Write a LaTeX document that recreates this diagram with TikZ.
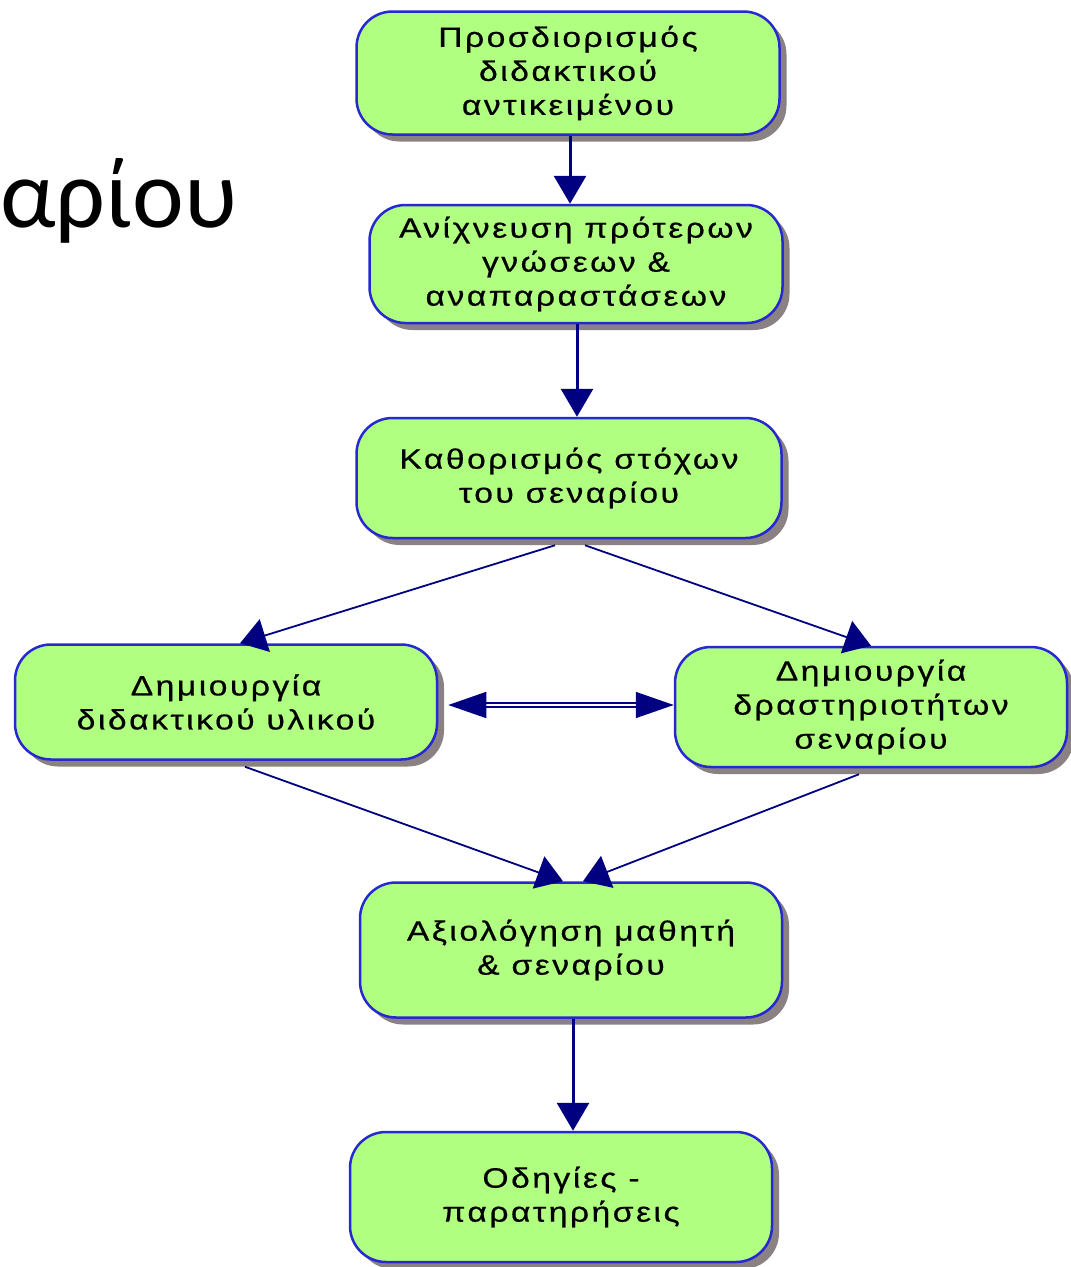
\documentclass[tikz,border=0pt]{standalone}
\usepackage{fontspec}
\usetikzlibrary{arrows.meta,shadows,calc}
\newfontfamily\boxfont[FakeStretch=1.2,LetterSpace=9,FakeBold=0.6]{Liberation Sans}
\newfontfamily\bigfont{Carlito}
\definecolor{boxfill}{HTML}{B0FF80}
\definecolor{boxline}{HTML}{2828D0}
\definecolor{arrowc}{HTML}{000080}
\definecolor{shadowc}{HTML}{8A8282}
\begin{document}
\begin{tikzpicture}[x=1pt,y=-1pt,
  stepbox/.style={draw=boxline, line width=2.5pt, fill=boxfill, rounded corners=36pt,
    align=center, inner sep=0pt, font=\boxfont\fontsize{28}{34}\selectfont,
    drop shadow={shadow xshift=7pt, shadow yshift=-7pt, fill=shadowc, opacity=1}},
  flow/.style={draw=arrowc, line width=3pt, -{Triangle[length=28pt,width=32pt]}},
  diag/.style={draw=arrowc, line width=1.8pt, -{Triangle[length=26pt,width=34pt]}},
  dbl/.style={draw=arrowc, line width=1.6pt, double=white, double distance=2pt,
    {Triangle[length=38pt,width=26pt]}-{Triangle[length=38pt,width=26pt]}},
]
\useasboundingbox (0,0) rectangle (1071,1267);

\node[font=\bigfont\fontsize{98}{110}\selectfont, anchor=base west, inner sep=0pt] (title) at (0,227) {αρίου};

\node[stepbox, minimum width=423pt, minimum height=123pt] (b1) at (568,73)
  {Προσδιορισμός\\διδακτικού\\αντικειμένου};
\node[stepbox, minimum width=413pt, minimum height=118pt] (b2) at (576,264)
  {Ανίχνευση πρότερων\\γνώσεων \&\\αναπαραστάσεων};
\node[stepbox, minimum width=425pt, minimum height=120pt] (b3) at (569,478)
  {Καθορισμός στόχων\\του σεναρίου};
\node[stepbox, minimum width=422pt, minimum height=115pt] (b4) at (226,702)
  {Δημιουργία\\διδακτικού υλικού};
\node[stepbox, minimum width=392pt, minimum height=120pt] (b5) at (871,707)
  {Δημιουργία\\δραστηριοτήτων\\σεναρίου};
\node[stepbox, minimum width=422pt, minimum height=135pt] (b6) at (571,950)
  {Αξιολόγηση μαθητή\\\& σεναρίου};
\node[stepbox, minimum width=422pt, minimum height=130pt] (b7) at (561,1197)
  {Οδηγίες -\\παρατηρήσεις};

\draw[flow] ([xshift=2pt]b1.south) -- ([xshift=2pt]b1.south |- b2.north);
\draw[flow] ([xshift=1pt]b2.south) -- ([xshift=1pt]b2.south |- b3.north);
\draw[flow] ([xshift=2pt]b6.south) -- ([xshift=2pt]b6.south |- b7.north);

\draw[diag] ([xshift=-14pt,yshift=-6pt]b3.south) -- ([xshift=14pt]b4.north);
\draw[diag] ([xshift=16pt,yshift=-6pt]b3.south) -- (b5.north);
\draw[diag] ([xshift=19pt,yshift=-6pt]b4.south) -- ([xshift=-8pt]b6.north);
\draw[diag] ([xshift=-12pt,yshift=-6pt]b5.south) -- ([xshift=12pt]b6.north);

\draw[dbl] ([xshift=10pt,yshift=-3pt]b4.east) -- ([yshift=-3pt]b4.east -| b5.west);
\end{tikzpicture}
\end{document}
